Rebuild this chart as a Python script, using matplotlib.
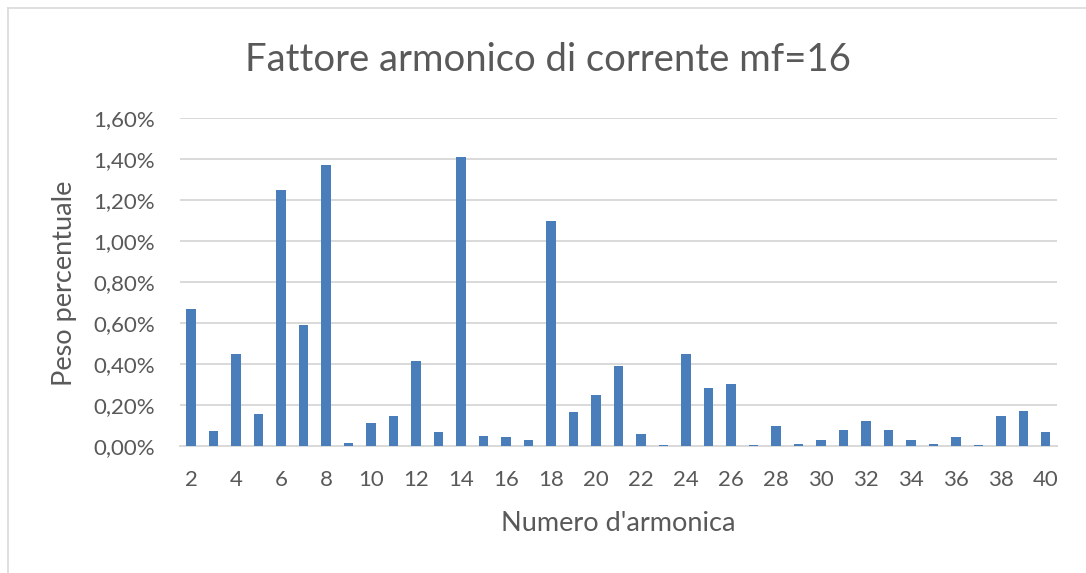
import matplotlib.pyplot as plt
from matplotlib.lines import Line2D

# harmonic order and its weight (% of fundamental)
harmonics = list(range(2, 41))
weights = [0.67, 0.075, 0.45, 0.155, 1.25, 0.59, 1.37, 0.013, 0.11, 0.147,
           0.415, 0.068, 1.41, 0.05, 0.045, 0.03, 1.10, 0.167, 0.25, 0.39,
           0.057, 0.005, 0.45, 0.285, 0.305, 0.005, 0.10, 0.01, 0.028, 0.077,
           0.12, 0.077, 0.028, 0.01, 0.044, 0.005, 0.147, 0.172, 0.068]
y_ticks = [0.0, 0.2, 0.4, 0.6, 0.8, 1.0, 1.2, 1.4, 1.6]

plt.rcParams['font.family'] = ['Lato', 'DejaVu Sans']
grey = '#595959'

fig = plt.figure(figsize=(10.86, 5.73), dpi=100)
ax = fig.add_axes([0.1657, 0.2216, 0.8076, 0.5724])

ax.bar(harmonics, weights, width=0.42, color='#4A7EBB', zorder=3)

ax.set_xlim(1.5, 40.5)
ax.set_ylim(0, 1.6)
ax.set_yticks(y_ticks)
ax.set_yticklabels([f"{v:.2f}%".replace('.', ',') for v in y_ticks])
ax.set_xticks(harmonics[::2])
ax.tick_params(axis='both', length=0, colors=grey, labelsize=16)
ax.tick_params(axis='y', pad=18)
ax.tick_params(axis='x', pad=17)
ax.grid(axis='y', color='#D9D9D9', linewidth=1.4, zorder=0)
for side in ['top', 'right', 'left']:
    ax.spines[side].set_visible(False)
ax.spines['bottom'].set_color('#D9D9D9')
ax.spines['bottom'].set_linewidth(1.4)

fig.text(0.569, 0.087, "Numero d'armonica", ha='center', va='center',
         fontsize=19.5, color=grey)
fig.text(0.059, 0.506, "Peso percentuale", ha='center', va='center',
         rotation=90, fontsize=19.5, color=grey)
fig.text(0.5046, 0.895, "Fattore armonico di corrente mf=16", ha='center',
         va='center', fontsize=27.5, color=grey)

# chart frame (top and left edges)
fig.add_artist(Line2D([0.0075, 0.0075], [0.0, 0.986], color='#D9D9D9',
                      linewidth=1.2, transform=fig.transFigure))
fig.add_artist(Line2D([0.0075, 1.0], [0.986, 0.986], color='#D9D9D9',
                      linewidth=1.2, transform=fig.transFigure))

fig.savefig('out.png', dpi=100)
